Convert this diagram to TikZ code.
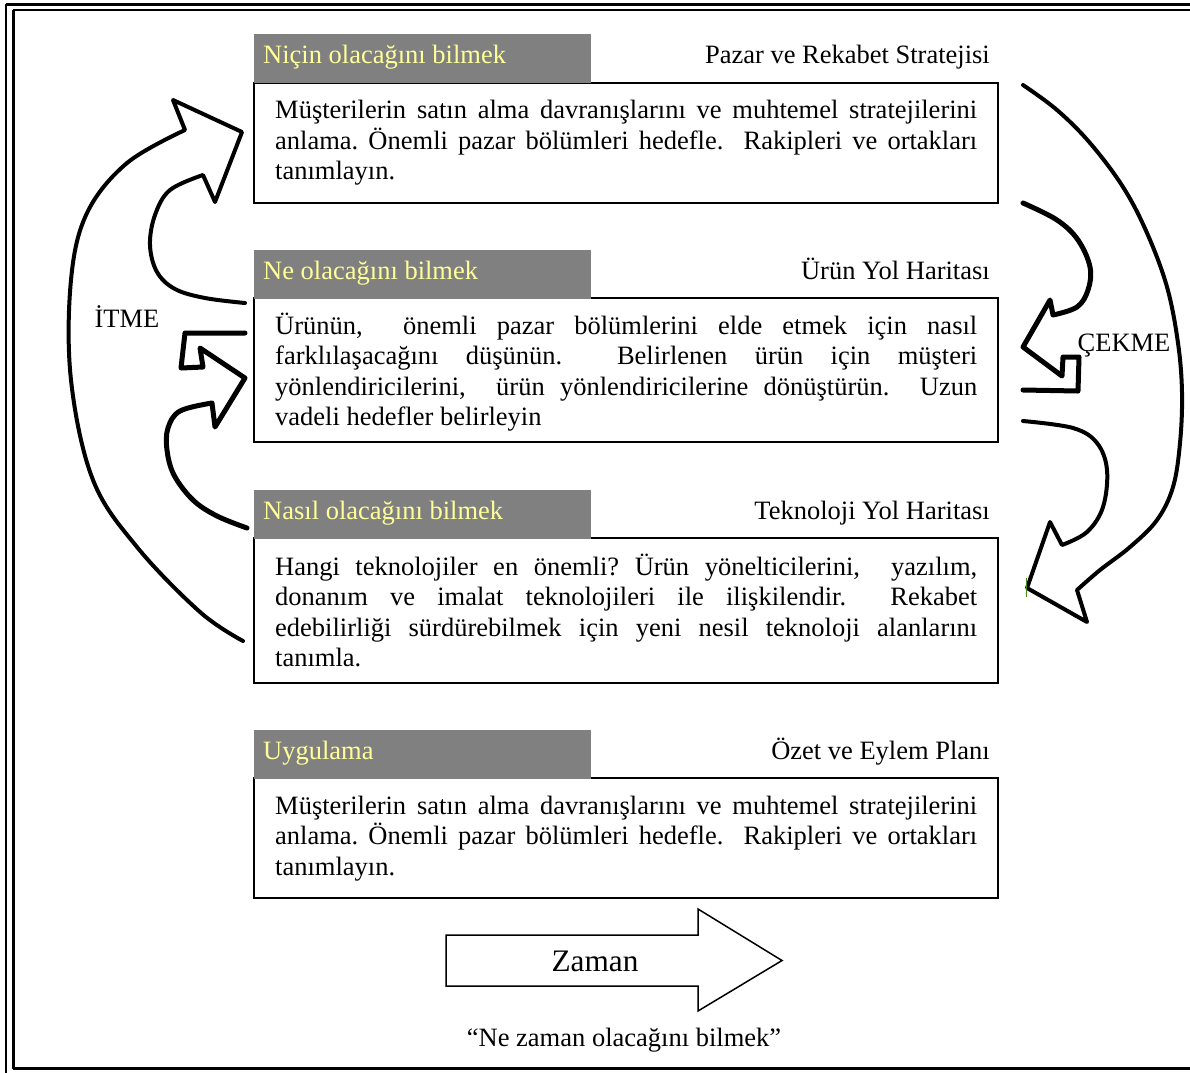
\documentclass[tikz,border=0pt]{standalone}
\usepackage{fontspec}
\setmainfont{Liberation Serif}
\definecolor{hdrgrey}{RGB}{128,128,128}
\definecolor{hdrtext}{RGB}{255,255,153}
\definecolor{tickgreen}{RGB}{70,140,20}
\newcommand\txtfont{\fontsize{26.5}{30.6}\selectfont}
\newcommand\parfont{\fontsize{26.5}{30.6}\selectfont\frenchspacing\tolerance=10000\hbadness=10000}
\begin{document}
\begin{tikzpicture}[x=1pt,y=-1pt,
  bodybox/.style={draw, line width=1.6pt, anchor=north west, inner sep=0pt, outer sep=0pt, minimum width=744pt},
  header/.style={fill=hdrgrey, anchor=north west, inner sep=0pt, outer sep=0pt, minimum width=337pt, minimum height=49pt},
  headtext/.style={text=hdrtext, font=\txtfont, anchor=base west, inner sep=0pt},
  titletext/.style={font=\txtfont, anchor=base east, inner sep=0pt},
  bodytext/.style={font=\parfont, text width=702pt, align=justify, anchor=base west, inner sep=0pt},
  label/.style={font=\txtfont, anchor=base, inner sep=0pt},
  swoosh/.style={line width=5pt, line join=round, line cap=round},
  bigswoosh/.style={line width=4pt, line join=round, line cap=round},
]
\useasboundingbox (0,0) rectangle (1190,1072);

% page frame (runs off the right and bottom edge)
\draw[line width=3pt] (6,4.3) -- (1200,4.3);
\draw[line width=2.5pt] (13.3,10) -- (1200,10);
\draw[line width=2pt] (6,4.3) -- (6,1080);
\draw[line width=3.5pt] (13.3,10) -- (13.3,1068.5);
\draw[line width=3pt] (13.3,1068.5) -- (1200,1068.5);

% ---- section 1
\node[bodybox, minimum height=120pt] (b1) at (254,83) {};
\node[header] (h1) at (254,34) {};
\node[headtext] (h1t) at (263,63) {Niçin olacağını bilmek};
\node[titletext] (r1) at (990,63) {Pazar ve Rekabet Stratejisi};
\node[bodytext] (t1) at (275,118.5) {Müşterilerin satın alma davranışlarını ve muhtemel stratejilerini\linebreak
anlama. Önemli pazar bölümleri hedefle.\ \ Rakipleri ve ortakları\linebreak
tanımlayın.};

% ---- section 2
\node[bodybox, minimum height=144pt] (b2) at (254,298) {};
\node[header] (h2) at (254,250) {};
\node[headtext] (h2t) at (263,279) {Ne olacağını bilmek};
\node[titletext] (r2) at (990,279) {Ürün Yol Haritası};
\node[bodytext] (t2) at (275,334) {Ürünün,\ \ önemli pazar bölümlerini elde etmek için nasıl\linebreak
farklılaşacağını düşünün.\ \ Belirlenen ürün için müşteri\linebreak
yönlendiricilerini,\ \ ürün yönlendiricilerine dönüştürün.\ \ Uzun\linebreak
vadeli hedefler belirleyin};

% ---- section 3
\node[bodybox, minimum height=145pt] (b3) at (254,538) {};
\node[header] (h3) at (254,490) {};
\node[headtext] (h3t) at (263,519) {Nasıl olacağını bilmek};
\node[titletext] (r3) at (990,519) {Teknoloji Yol Haritası};
\node[bodytext] (t3) at (275,575) {Hangi teknolojiler en önemli? Ürün yönelticilerini,\ \ yazılım,\linebreak
donanım ve imalat teknolojileri ile ilişkilendir.\ \ Rekabet\linebreak
edebilirliği sürdürebilmek için yeni nesil teknoloji alanlarını\linebreak
tanımla.};

% ---- section 4
\node[bodybox, minimum height=120pt] (b4) at (254,778) {};
\node[header] (h4) at (254,730) {};
\node[headtext] (h4t) at (263,759) {Uygulama};
\node[titletext] (r4) at (990,759) {Özet ve Eylem Planı};
\node[bodytext] (t4) at (275,814) {Müşterilerin satın alma davranışlarını ve muhtemel stratejilerini\linebreak
anlama. Önemli pazar bölümleri hedefle.\ \ Rakipleri ve ortakları\linebreak
tanımlayın.};

% ---- push arrows (left)
\draw[bigswoosh] plot[smooth, tension=0.6] coordinates {(243,641) (200,612) (137,547) (93,480) (71,380) (71,280) (87,213) (127,163) (185,130)}
  -- (173,100) -- (242,132) -- (215,202) -- (203,175)
  -- plot[smooth, tension=0.6] coordinates {(203,175) (170,190) (155,215) (150,245) (157,272) (175,289) (205,298) (245,303)};
\draw[swoosh] (245,333) -- (185,333) -- (181,368) -- (203,367) -- (200,348) -- (245,378) -- (215,427) -- (212,403)
  -- plot[smooth, tension=0.6] coordinates {(212,403) (180,411) (168,428) (167,450) (174,475) (193,500) (217,516) (247,528)};
\node[label] (push) at (127,327) {İTME};

% ---- pull arrows (right)
\draw[bigswoosh] plot[smooth, tension=0.6] coordinates {(1023,85) (1057,110) (1090,143) (1123,187) (1147,233) (1167,287) (1178,343) (1182,393) (1180,443) (1173,487) (1157,520) (1130,547) (1100,570) (1077,590)}
  -- (1087,622) -- (1027,588) -- (1050,522) -- (1062,545)
  -- plot[smooth, tension=0.6] coordinates {(1062,545) (1087,532) (1103,507) (1107,470) (1097,443) (1073,428) (1023,421)};
\draw[swoosh] plot[smooth, tension=0.6] coordinates {(1023,203) (1057,220) (1078,240) (1090,267) (1088,290) (1077,307) (1053,315)}
  -- (1050,300) -- (1023,347) -- (1062,376) -- (1063,357) -- (1079,357) -- (1078,391) -- (1023,390);
\draw[tickgreen, line width=1.5pt] (1026.5,578) -- (1026.5,597);
\node[label] (pull) at (1124,351) {ÇEKME};

% ---- time arrow
\coordinate (za) at (446,935);
\draw[line width=1.5pt, line join=miter] (za) -- (698,935) -- (698,909) -- (782,960.5) -- (698,1011) -- (698,986) -- (446,986) -- cycle;
\node[font=\fontsize{31.3}{36}\selectfont, anchor=base, inner sep=0pt] (zaman) at (595,971) {Zaman};
\node[label] (when) at (624,1046.5) {“Ne zaman olacağını bilmek”};
\end{tikzpicture}
\end{document}
